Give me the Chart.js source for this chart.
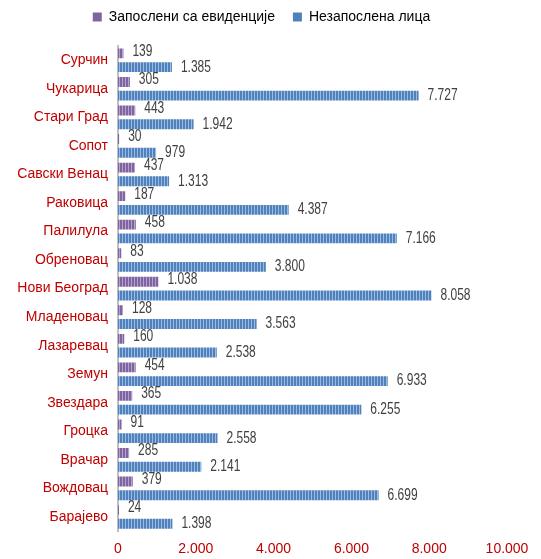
<!DOCTYPE html>
<html>
<head>
<meta charset="utf-8">
<script src="https://cdn.jsdelivr.net/npm/chart.js@4"></script>
<style>
  html, body { margin: 0; padding: 0; background: #fff; }
  #wrap { width: 541px; height: 559px; }
</style>
</head>
<body>
<div id="wrap"><canvas id="myChart" width="541" height="559"></canvas></div>
<script>
const municipalities = ['Сурчин', 'Чукарица', 'Стари Град', 'Сопот', 'Савски Венац', 'Раковица', 'Палилула', 'Обреновац', 'Нови Београд', 'Младеновац', 'Лазаревац', 'Земун', 'Звездара', 'Гроцка', 'Врачар', 'Вождовац', 'Барајево'];
const employed = [139, 305, 443, 30, 437, 187, 458, 83, 1038, 128, 160, 454, 365, 91, 285, 379, 24];
const unemployed = [1385, 7727, 1942, 979, 1313, 4387, 7166, 3800, 8058, 3563, 2538, 6933, 6255, 2558, 2141, 6699, 1398];
const seriesNames = ['Запослени са евиденције', 'Незапослена лица'];
const xTicks = [0, 2000, 4000, 6000, 8000, 10000];

// striped fill like the excel picture
function stripes(base, light) {
  const c = document.createElement('canvas');
  c.width = 3; c.height = 4;
  const g = c.getContext('2d');
  g.fillStyle = base;
  g.fillRect(0, 0, 3, 4);
  g.fillStyle = light;
  g.fillRect(2, 0, 1, 4);
  return g.createPattern(c, 'repeat');
}

const fmt = v => v.toLocaleString('de-DE');

// narrow looking value labels next to the bars
const valueLabels = {
  id: 'valueLabels',
  beforeInit(chart) {
    // more room under the legend
    const lg = chart.legend;
    const fit = lg.fit.bind(lg);
    lg.fit = function () { fit(); this.height += 12; };
  },
  afterLayout(chart) {
    chart.legend.left += 8;
    chart.legend.right += 8;
  },
  afterDatasetsDraw(chart) {
    const ctx = chart.ctx;
    ctx.save();
    ctx.font = '16px "Liberation Sans", Arial';
    ctx.fillStyle = '#404040';
    ctx.textBaseline = 'middle';
    chart.data.datasets.forEach((ds, i) => {
      chart.getDatasetMeta(i).data.forEach((bar, j) => {
        const dy = i === 0 ? -2 : 0;
        ctx.save();
        ctx.translate(bar.x + 9, bar.y + dy);
        ctx.scale(0.75, 1);
        ctx.fillText(fmt(ds.data[j]), 0, 0);
        ctx.restore();
      });
    });
    ctx.restore();
  }
};

const ctx = document.getElementById('myChart');
const myChart = new Chart(ctx, {
  type: 'bar',
  data: {
    labels: municipalities,
    datasets: [{
      label: seriesNames[0],
      data: employed,
      backgroundColor: stripes('#8064A2', '#B3A2CC'),
      categoryPercentage: 0.96,
      barPercentage: 0.72
    }, {
      label: seriesNames[1],
      data: unemployed,
      backgroundColor: stripes('#4F81BD', '#9DBBE0'),
      categoryPercentage: 0.96,
      barPercentage: 0.72
    }]
  },
  options: {
    indexAxis: 'y',
    responsive: false,
    animation: false,
    layout: { padding: { top: -8, left: 0, right: 34, bottom: -9 } },
    plugins: {
      legend: {
        labels: {
          boxWidth: 9,
          boxHeight: 9,
          color: '#595959',
          font: { size: 14, family: '"Liberation Sans", Arial' },
          padding: 18,
          generateLabels(chart) {
            return [
              { text: seriesNames[0], fillStyle: '#8064A2', strokeStyle: '#8064A2', lineWidth: 0, datasetIndex: 0 },
              { text: seriesNames[1], fillStyle: '#4F81BD', strokeStyle: '#4F81BD', lineWidth: 0, datasetIndex: 1 }
            ];
          }
        }
      },
      tooltip: { enabled: false }
    },
    scales: {
      x: {
        min: 0,
        max: 10000,
        afterBuildTicks(axis) { axis.ticks = xTicks.map(v => ({ value: v })); },
        grid: { display: false, drawTicks: false },
        border: { display: false },
        ticks: {
          color: '#C00000',
          font: { size: 14, family: '"Liberation Sans", Arial' },
          padding: 10,
          maxRotation: 0,
          callback: v => fmt(v)
        }
      },
      y: {
        grid: { display: false, drawTicks: false },
        border: { display: true, color: '#BFBFBF', width: 2 },
        afterFit(s) { s.width = 118; },
        ticks: {
          color: '#C00000',
          font: { size: 14, family: '"Liberation Sans", Arial' },
          padding: 10
        }
      }
    }
  },
  plugins: [valueLabels]
});
</script>
</body>
</html>
